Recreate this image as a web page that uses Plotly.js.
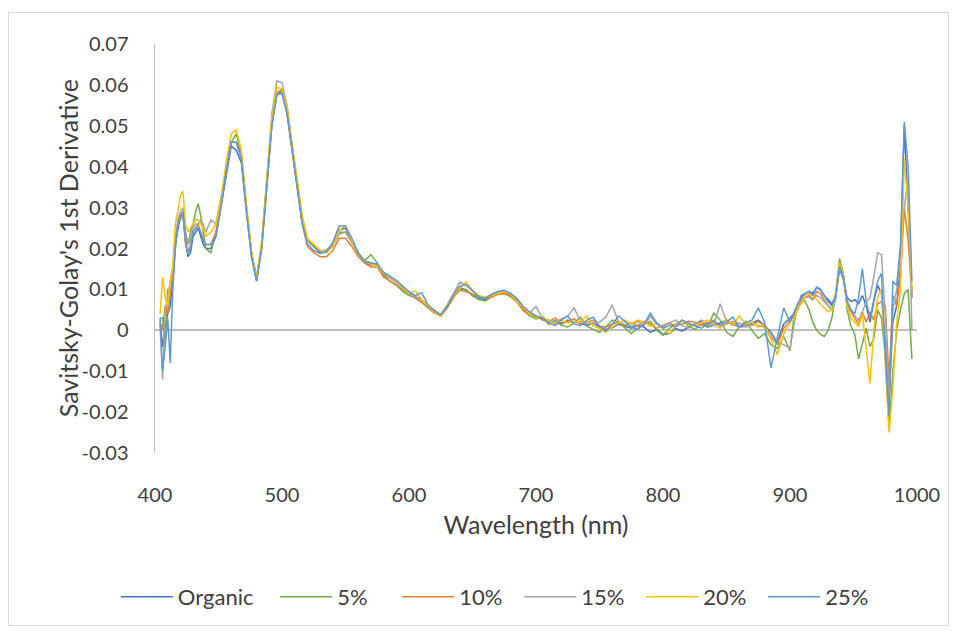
<!DOCTYPE html>
<html>
<head>
<meta charset="utf-8">
<script src="https://cdn.plot.ly/plotly-3.0.1.min.js"></script>
<style>
  html, body { margin:0; padding:0; background:#ffffff; }
  #wrap { position:relative; width:956px; height:631px; }
  #chart { position:absolute; left:0; top:0; width:956px; height:631px; }
  #frame { position:absolute; left:8px; top:12px; width:941px; height:614px; border:1px solid #D9D9D9; pointer-events:none; box-sizing:border-box; }
</style>
</head>
<body>
<div id="wrap"><div id="chart"></div><div id="frame"></div></div>
<script>
// ---------------- data ----------------
const wavelength = [
  404,406,408,410,412,414,416,418,420,422,
  424,426,428,430,432,434,436,438,440,
  444,448,452,456,460,464,468,472,476,480,
  484,488,492,496,500,504,508,512,516,520,
  525,530,535,540,545,550,555,560,565,570,
  575,580,585,590,595,600,605,610,615,620,
  625,630,635,640,645,650,655,660,665,670,
  675,680,685,690,695,700,705,710,715,720,
  725,730,735,740,745,750,755,760,765,770,
  775,780,785,790,795,800,805,810,815,820,
  825,830,835,840,845,850,855,860,865,870,
  875,880,885,890,895,900,
  903,906,909,912,915,918,921,924,927,930,
  933,936,939,942,945,948,951,954,957,960,
  963,966,969,972,975,978,981,984,987,990,
  993,996
];

const organic = [
  0.002,-0.004,0.001,0.004,0.006,0.012,0.021,0.025,0.028,0.028,
  0.022,0.018,0.019,0.023,0.024,0.025,0.023,0.021,0.020,
  0.020,0.023,0.030,0.038,0.045,0.044,0.041,0.029,0.018,0.012,
  0.020,0.035,0.050,0.058,0.058,0.053,0.044,0.035,0.026,0.022,
  0.0205,0.019,0.0195,0.021,0.0245,0.025,0.022,0.019,0.0165,0.016,
  0.016,0.0138,0.0128,0.012,0.0105,0.0092,0.0082,0.0075,0.006,0.0048,
  0.0038,0.0058,0.0085,0.0105,0.0098,0.0085,0.0078,0.0075,0.0085,0.009,
  0.0092,0.0085,0.0072,0.0052,0.004,0.0032,0.0028,0.0018,0.0022,0.0015,
  0.0025,0.002,0.0018,0.0012,0.0018,0.0008,0.0002,0.0006,0.0015,0.001,
  0.0005,0.0012,0.0008,-0.0005,0.0002,-0.001,-0.0008,0.0005,-0.0002,0.0008,
  0.0015,0.0022,0.0008,0.0012,0.0018,0.0025,0.0015,0.0008,0.001,0.0018,
  0.0025,0.0012,-0.0005,-0.003,0.0015,0.003,
  0.004,0.006,0.0085,0.009,0.0095,0.009,0.0105,0.01,0.0085,0.0075,
  0.0065,0.0085,0.015,0.0125,0.008,0.007,0.0075,0.0065,0.0085,0.006,
  0.002,0.007,0.011,0.009,-0.003,-0.016,0.002,0.006,0.018,0.05,
  0.03,0.008
];

const pct5 = [
  0.003,0.003,-0.004,0.010,0.009,0.013,0.020,0.026,0.027,0.029,
  0.024,0.021,0.024,0.026,0.029,0.031,0.028,0.024,0.020,
  0.019,0.024,0.031,0.039,0.046,0.048,0.043,0.030,0.019,0.013,
  0.021,0.036,0.051,0.058,0.059,0.054,0.045,0.036,0.027,0.022,
  0.0205,0.0195,0.019,0.021,0.024,0.024,0.0215,0.019,0.017,0.0185,
  0.0165,0.0135,0.012,0.011,0.0095,0.0085,0.008,0.007,0.0055,0.0045,
  0.0035,0.0055,0.008,0.01,0.01,0.0085,0.0075,0.0072,0.0082,0.0088,
  0.009,0.0082,0.0068,0.005,0.0035,0.0028,0.0032,0.0015,0.0025,0.0012,
  0.0008,0.0018,0.0032,0.001,0.0002,-0.0005,0.0008,0.0025,0.002,0.0005,
  -0.0008,0.0005,0.0015,0.0022,0.0,-0.0012,0.0005,0.0015,0.0025,0.001,
  0.0002,0.0015,0.0008,0.0042,0.0025,-0.0005,-0.0015,0.0008,0.0022,0.0,
  -0.002,-0.0008,-0.0035,-0.0045,-0.0015,-0.005,
  0.003,0.006,0.008,0.007,0.005,0.002,0.0,-0.001,-0.0015,0.0,
  0.003,0.009,0.0175,0.014,0.005,0.001,-0.001,-0.007,-0.003,0.0005,
  -0.004,-0.002,0.005,0.003,-0.006,-0.024,-0.01,0.0,0.005,0.009,
  0.01,-0.007
];

const pct10 = [
  0.002,0.000,0.006,0.004,0.009,0.014,0.022,0.026,0.028,0.029,
  0.021,0.019,0.021,0.024,0.025,0.026,0.024,0.022,0.021,
  0.021,0.024,0.031,0.039,0.046,0.046,0.042,0.030,0.019,0.0125,
  0.021,0.036,0.051,0.058,0.0585,0.053,0.044,0.035,0.026,0.0205,
  0.019,0.018,0.018,0.0195,0.0225,0.0225,0.0205,0.018,0.0165,0.0155,
  0.0155,0.013,0.0122,0.0112,0.0098,0.009,0.0078,0.0068,0.0055,0.0042,
  0.0035,0.0055,0.0082,0.0098,0.0095,0.0088,0.0082,0.0078,0.0082,0.0088,
  0.009,0.0085,0.007,0.0048,0.0038,0.0035,0.0025,0.0022,0.003,0.0018,
  0.0022,0.0028,0.0015,0.0018,0.0025,0.001,0.0008,0.0015,0.002,0.0012,
  0.0018,0.001,0.0022,0.0015,0.0005,0.0012,0.0018,0.001,0.0015,0.0022,
  0.002,0.0012,0.0018,0.0025,0.001,0.0015,0.0022,0.0008,0.0015,0.0012,
  0.0022,0.001,-0.0015,-0.0035,0.0005,0.0025,
  0.0035,0.005,0.0075,0.008,0.0085,0.0075,0.0095,0.009,0.0075,0.006,
  0.005,0.008,0.016,0.0135,0.0065,0.0045,0.003,0.0015,0.0045,0.002,
  0.0045,0.0025,0.0065,0.007,0.006,-0.012,0.0085,0.006,0.013,0.03,
  0.022,0.009
];

const pct15 = [
  0.001,-0.012,0.005,0.008,0.012,0.015,0.023,0.027,0.029,0.030,
  0.024,0.021,0.022,0.025,0.026,0.026,0.027,0.026,0.024,
  0.027,0.026,0.033,0.040,0.046,0.046,0.043,0.030,0.019,0.0125,
  0.021,0.037,0.053,0.061,0.0605,0.055,0.045,0.036,0.027,0.022,
  0.021,0.0195,0.0195,0.0205,0.0235,0.024,0.0215,0.0185,0.017,0.0165,
  0.016,0.014,0.013,0.0118,0.0102,0.009,0.0082,0.0072,0.0058,0.0045,
  0.0038,0.0062,0.009,0.0118,0.011,0.0095,0.0082,0.008,0.0088,0.0095,
  0.0095,0.009,0.0075,0.0055,0.0042,0.0058,0.003,0.0025,0.002,0.0028,
  0.0035,0.0055,0.0022,0.002,0.0015,0.002,0.0032,0.0062,0.002,0.0015,
  0.0008,0.0022,0.0012,0.0035,0.0015,0.0008,0.0018,0.0025,0.0012,0.0005,
  0.0015,0.0025,0.0018,0.0012,0.0065,0.0022,0.0012,0.0018,0.0008,0.0015,
  0.0012,0.0008,-0.002,-0.003,-0.0035,-0.0045,
  0.001,0.006,0.008,0.0085,0.008,0.0075,0.0085,0.008,0.007,0.006,
  0.005,0.0075,0.0155,0.0125,0.007,0.005,0.0035,0.0025,0.0045,0.007,
  0.008,0.013,0.019,0.0185,0.004,-0.018,0.005,0.01,0.017,0.03,
  0.037,0.0
];

const pct20 = [
  0.004,0.013,0.008,0.006,0.012,0.016,0.026,0.029,0.033,0.034,
  0.026,0.024,0.025,0.026,0.027,0.027,0.026,0.025,0.023,
  0.024,0.026,0.032,0.041,0.048,0.049,0.044,0.031,0.019,0.013,
  0.022,0.037,0.052,0.0595,0.059,0.0545,0.045,0.037,0.028,0.0225,
  0.021,0.0195,0.019,0.0205,0.0245,0.0255,0.022,0.0185,0.0168,0.0162,
  0.0158,0.014,0.013,0.012,0.0105,0.0092,0.0096,0.0075,0.006,0.0045,
  0.0035,0.006,0.0085,0.0102,0.0118,0.0098,0.0085,0.008,0.0085,0.009,
  0.0095,0.0088,0.007,0.0055,0.004,0.003,0.0035,0.0022,0.0015,0.0025,
  0.0018,0.0022,0.002,0.0035,0.001,0.0005,-0.0005,0.0008,0.0018,0.0025,
  0.0015,0.0025,0.002,0.001,0.0018,0.0005,-0.0008,0.0012,0.0025,0.0015,
  0.001,0.0018,0.0025,0.0015,0.0005,0.0028,0.0012,0.0035,0.0015,0.002,
  0.0008,0.0015,-0.002,-0.006,-0.001,0.002,
  0.0025,0.0055,0.0065,0.0085,0.009,0.0085,0.0075,0.0065,0.0055,0.0045,
  0.005,0.009,0.0165,0.0135,0.006,0.003,0.002,0.001,0.004,-0.004,
  -0.013,0.0,0.008,0.01,-0.006,-0.025,-0.014,0.002,0.01,0.042,
  0.03,0.01
];

const pct25 = [
  0.003,-0.010,-0.004,0.003,-0.008,0.010,0.020,0.026,0.028,0.029,
  0.022,0.019,0.020,0.024,0.025,0.025,0.024,0.022,0.021,
  0.021,0.023,0.030,0.039,0.046,0.046,0.042,0.029,0.018,0.012,
  0.020,0.035,0.050,0.0575,0.058,0.053,0.044,0.035,0.026,0.021,
  0.0195,0.0188,0.0192,0.0215,0.0255,0.0255,0.0225,0.0188,0.0168,0.0165,
  0.0162,0.0142,0.0132,0.0122,0.0108,0.0095,0.0085,0.0092,0.0062,0.0048,
  0.0038,0.0058,0.0088,0.0108,0.0112,0.0098,0.0082,0.0078,0.0088,0.0095,
  0.0098,0.009,0.0078,0.0058,0.0045,0.0035,0.003,0.0018,0.0012,0.0025,
  0.0035,0.0015,0.0012,0.0025,0.0032,0.001,-0.0002,0.0015,0.0035,0.0022,
  0.0008,0.0002,0.0015,0.0042,0.0018,0.0005,0.0012,0.0008,0.0025,0.0018,
  0.0012,0.0005,0.0015,0.0022,0.0012,0.002,0.0032,0.0008,0.0018,0.0025,
  0.0055,0.002,-0.0092,-0.002,0.0055,0.002,
  0.0045,0.0065,0.008,0.009,0.0095,0.0085,0.0105,0.0098,0.0085,0.007,
  0.006,0.0085,0.0155,0.013,0.007,0.005,0.004,0.008,0.015,0.007,
  0.003,0.008,0.012,0.014,-0.006,-0.021,0.012,0.011,0.021,0.051,
  0.04,0.012
];

const seriesNames = ['Organic','5%','10%','15%','20%','25%'];
const xTickVals = [400,500,600,700,800,900,1000];
const xTickText = ['400','500','600','700','800','900','1000'];
const yTickVals = [-0.03,-0.02,-0.01,0,0.01,0.02,0.03,0.04,0.05,0.06,0.07];
const yTickText = ['-0.03','-0.02','-0.01','0','0.01','0.02','0.03','0.04','0.05','0.06','0.07'];
const xTitle = 'Wavelength (nm)';
const yTitle = "Savitsky-Golay's 1st Derivative";

// ---------------- chart ----------------
const seriesData = [organic, pct5, pct10, pct15, pct20, pct25];
const lineColors = ['#4472C4','#70AD47','#ED7D31','#A5A5A5','#FFC000','#5B9BD5'];

const traces = seriesData.map((ys, i) => ({
  type: 'scatter',
  mode: 'lines',
  name: seriesNames[i],
  x: wavelength,
  y: ys,
  legend: i === 0 ? 'legend' : 'legend2',
  line: { color: lineColors[i], width: 1.5 },
  hoverinfo: 'skip'
}));

const legendCommon = {
  orientation: 'h',
  xref: 'container',
  yref: 'container',
  xanchor: 'left',
  y: 0.054,
  yanchor: 'middle',
  itemwidth: 52,
  font: { size: 22, color: '#404040' },
  bgcolor: 'rgba(0,0,0,0)'
};

const layout = {
  width: 956,
  height: 631,
  margin: { l: 155, r: 39, t: 44, b: 178 },
  paper_bgcolor: 'rgba(0,0,0,0)',
  plot_bgcolor: 'rgba(0,0,0,0)',
  font: { family: 'Lato, "Open Sans", sans-serif', size: 20, color: '#404040' },
  showlegend: true,
  xaxis: {
    range: [400, 1000],
    tickmode: 'array',
    tickvals: xTickVals,
    ticktext: xTickText,
    showgrid: false,
    zeroline: false,
    showline: false,
    ticks: 'outside',
    ticklen: 24,
    tickcolor: 'rgba(0,0,0,0)',
    tickfont: { size: 20, color: '#404040' },
    title: { text: xTitle, font: { size: 25, color: '#404040' }, standoff: 11 },
    automargin: false,
    fixedrange: true
  },
  yaxis: {
    range: [-0.03, 0.07],
    tickmode: 'array',
    tickvals: yTickVals,
    ticktext: yTickText,
    showgrid: false,
    zeroline: true,
    zerolinecolor: '#BFBFBF',
    zerolinewidth: 2,
    showline: true,
    linecolor: '#BFBFBF',
    linewidth: 1.5,
    ticks: 'outside',
    ticklen: 21,
    tickcolor: 'rgba(0,0,0,0)',
    tickfont: { size: 20, color: '#404040' },
    automargin: false,
    fixedrange: true
  },
  annotations: [{
    text: yTitle,
    xref: 'paper', yref: 'paper',
    x: -0.1145, y: 0.5,
    xanchor: 'center', yanchor: 'middle',
    textangle: -90,
    showarrow: false,
    font: { size: 25, color: '#404040' }
  }],
  legend: Object.assign({}, legendCommon, { x: 0.1212 }),
  legend2: Object.assign({}, legendCommon, { x: 0.2878, entrywidth: 55, entrywidthmode: 'pixels' })
};

Plotly.newPlot('chart', traces, layout, { displayModeBar: false, staticPlot: true });
</script>
</body>
</html>
